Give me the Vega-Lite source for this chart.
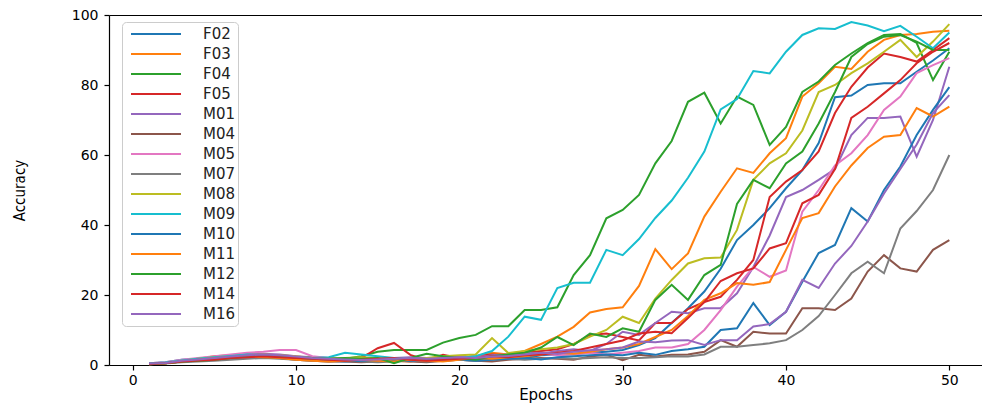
{
"$schema":"https://vega.github.io/schema/vega-lite/v6.json",
"width":873,"height":350,
"autosize":{"type":"none"},
"padding":{"left":109,"top":15,"right":0,"bottom":42},
"background":"white",
"config":{
"view":{"stroke":null},
"axis":{"domainColor":"black","tickColor":"black","labelColor":"black","titleColor":"black","grid":false,"tickSize":5,"labelFont":"DejaVu Sans","titleFont":"DejaVu Sans","labelFontSize":14,"titleFontSize":16,"titleFontWeight":"normal","domainWidth":1.2,"tickWidth":1.2},
"legend":{"orient":"none","legendX":13,"legendY":7,"symbolType":"stroke","symbolSize":2500,"symbolStrokeWidth":2,"clipHeight":20,"rowPadding":0,"labelFontSize":15,"labelFont":"DejaVu Sans","labelColor":"#222222","labelOffset":21,"padding":2,"symbolOffset":6,"strokeColor":"#cccccc","fillColor":"rgba(255,255,255,0.8)","cornerRadius":4}
},
"data":{"values":[
{"s":"F02","e":1,"a":0.5},{"s":"F02","e":2,"a":0.8},{"s":"F02","e":3,"a":1.5},{"s":"F02","e":4,"a":1.8},{"s":"F02","e":5,"a":2.0},{"s":"F02","e":6,"a":2.5},{"s":"F02","e":7,"a":2.8},{"s":"F02","e":8,"a":2.5},{"s":"F02","e":9,"a":2.2},{"s":"F02","e":10,"a":1.8},
{"s":"F02","e":11,"a":1.5},{"s":"F02","e":12,"a":1.2},{"s":"F02","e":13,"a":1.5},{"s":"F02","e":14,"a":1.3},{"s":"F02","e":15,"a":1.6},{"s":"F02","e":16,"a":1.4},{"s":"F02","e":17,"a":1.8},{"s":"F02","e":18,"a":1.5},{"s":"F02","e":19,"a":2.0},{"s":"F02","e":20,"a":1.8},
{"s":"F02","e":21,"a":1.5},{"s":"F02","e":22,"a":2.2},{"s":"F02","e":23,"a":2.5},{"s":"F02","e":24,"a":2.0},{"s":"F02","e":25,"a":2.8},{"s":"F02","e":26,"a":3.0},{"s":"F02","e":27,"a":3.2},{"s":"F02","e":28,"a":3.5},{"s":"F02","e":29,"a":3.8},{"s":"F02","e":30,"a":4.3},
{"s":"F02","e":31,"a":5.7},{"s":"F02","e":32,"a":7.7},{"s":"F02","e":33,"a":12},{"s":"F02","e":34,"a":16.2},{"s":"F02","e":35,"a":21},{"s":"F02","e":36,"a":27.5},{"s":"F02","e":37,"a":35.7},{"s":"F02","e":38,"a":40},{"s":"F02","e":39,"a":44.8},{"s":"F02","e":40,"a":50.5},
{"s":"F02","e":41,"a":55.7},{"s":"F02","e":42,"a":63.4},{"s":"F02","e":43,"a":76.5},{"s":"F02","e":44,"a":77},{"s":"F02","e":45,"a":80},{"s":"F02","e":46,"a":80.5},{"s":"F02","e":47,"a":80.5},{"s":"F02","e":48,"a":83.8},{"s":"F02","e":49,"a":87},{"s":"F02","e":50,"a":90.5},
{"s":"F03","e":1,"a":0.3},{"s":"F03","e":2,"a":0.6},{"s":"F03","e":3,"a":1.2},{"s":"F03","e":4,"a":1.8},{"s":"F03","e":5,"a":2.5},{"s":"F03","e":6,"a":2.8},{"s":"F03","e":7,"a":3.0},{"s":"F03","e":8,"a":2.6},{"s":"F03","e":9,"a":2.2},{"s":"F03","e":10,"a":2.0},
{"s":"F03","e":11,"a":1.8},{"s":"F03","e":12,"a":1.5},{"s":"F03","e":13,"a":1.2},{"s":"F03","e":14,"a":1.0},{"s":"F03","e":15,"a":1.5},{"s":"F03","e":16,"a":1.2},{"s":"F03","e":17,"a":1.0},{"s":"F03","e":18,"a":1.8},{"s":"F03","e":19,"a":2.5},{"s":"F03","e":20,"a":2.0},
{"s":"F03","e":21,"a":2.5},{"s":"F03","e":22,"a":3.5},{"s":"F03","e":23,"a":3.0},{"s":"F03","e":24,"a":4.0},{"s":"F03","e":25,"a":6.0},{"s":"F03","e":26,"a":8.1},{"s":"F03","e":27,"a":10.9},{"s":"F03","e":28,"a":15},{"s":"F03","e":29,"a":16},{"s":"F03","e":30,"a":16.5},
{"s":"F03","e":31,"a":22.6},{"s":"F03","e":32,"a":33.1},{"s":"F03","e":33,"a":27.4},{"s":"F03","e":34,"a":31.9},{"s":"F03","e":35,"a":42.4},{"s":"F03","e":36,"a":49.5},{"s":"F03","e":37,"a":56.2},{"s":"F03","e":38,"a":54.9},{"s":"F03","e":39,"a":60.5},{"s":"F03","e":40,"a":64.8},
{"s":"F03","e":41,"a":76.7},{"s":"F03","e":42,"a":80.5},{"s":"F03","e":43,"a":85.2},{"s":"F03","e":44,"a":84.6},{"s":"F03","e":45,"a":89.5},{"s":"F03","e":46,"a":92.9},{"s":"F03","e":47,"a":94.3},{"s":"F03","e":48,"a":94.6},{"s":"F03","e":49,"a":95.2},{"s":"F03","e":50,"a":95.5},
{"s":"F04","e":1,"a":0.2},{"s":"F04","e":2,"a":0.5},{"s":"F04","e":3,"a":1.0},{"s":"F04","e":4,"a":1.5},{"s":"F04","e":5,"a":2.0},{"s":"F04","e":6,"a":2.8},{"s":"F04","e":7,"a":3.2},{"s":"F04","e":8,"a":2.8},{"s":"F04","e":9,"a":2.5},{"s":"F04","e":10,"a":2.2},
{"s":"F04","e":11,"a":2.0},{"s":"F04","e":12,"a":2.0},{"s":"F04","e":13,"a":1.8},{"s":"F04","e":14,"a":2.5},{"s":"F04","e":15,"a":3.8},{"s":"F04","e":16,"a":4.3},{"s":"F04","e":17,"a":4.3},{"s":"F04","e":18,"a":4.3},{"s":"F04","e":19,"a":6.4},{"s":"F04","e":20,"a":7.7},
{"s":"F04","e":21,"a":8.6},{"s":"F04","e":22,"a":11.1},{"s":"F04","e":23,"a":11.1},{"s":"F04","e":24,"a":15.7},{"s":"F04","e":25,"a":15.7},{"s":"F04","e":26,"a":16.5},{"s":"F04","e":27,"a":25.7},{"s":"F04","e":28,"a":31.4},{"s":"F04","e":29,"a":41.9},{"s":"F04","e":30,"a":44.3},
{"s":"F04","e":31,"a":48.6},{"s":"F04","e":32,"a":57.6},{"s":"F04","e":33,"a":64},{"s":"F04","e":34,"a":75.2},{"s":"F04","e":35,"a":77.8},{"s":"F04","e":36,"a":69},{"s":"F04","e":37,"a":76.7},{"s":"F04","e":38,"a":74.3},{"s":"F04","e":39,"a":62.9},{"s":"F04","e":40,"a":68},
{"s":"F04","e":41,"a":78},{"s":"F04","e":42,"a":81},{"s":"F04","e":43,"a":85.7},{"s":"F04","e":44,"a":89},{"s":"F04","e":45,"a":92},{"s":"F04","e":46,"a":94.3},{"s":"F04","e":47,"a":94.6},{"s":"F04","e":48,"a":92},{"s":"F04","e":49,"a":81.4},{"s":"F04","e":50,"a":89.5},
{"s":"F05","e":1,"a":0.5},{"s":"F05","e":2,"a":0.6},{"s":"F05","e":3,"a":1.0},{"s":"F05","e":4,"a":1.5},{"s":"F05","e":5,"a":1.8},{"s":"F05","e":6,"a":2.2},{"s":"F05","e":7,"a":2.8},{"s":"F05","e":8,"a":3.0},{"s":"F05","e":9,"a":2.5},{"s":"F05","e":10,"a":2.0},
{"s":"F05","e":11,"a":1.8},{"s":"F05","e":12,"a":1.5},{"s":"F05","e":13,"a":1.5},{"s":"F05","e":14,"a":2.0},{"s":"F05","e":15,"a":4.8},{"s":"F05","e":16,"a":6.3},{"s":"F05","e":17,"a":2.9},{"s":"F05","e":18,"a":1.4},{"s":"F05","e":19,"a":2.9},{"s":"F05","e":20,"a":2.0},
{"s":"F05","e":21,"a":2.5},{"s":"F05","e":22,"a":3.0},{"s":"F05","e":23,"a":2.8},{"s":"F05","e":24,"a":3.5},{"s":"F05","e":25,"a":4.0},{"s":"F05","e":26,"a":4.5},{"s":"F05","e":27,"a":6.0},{"s":"F05","e":28,"a":8.6},{"s":"F05","e":29,"a":9.0},{"s":"F05","e":30,"a":8.0},
{"s":"F05","e":31,"a":7.0},{"s":"F05","e":32,"a":12},{"s":"F05","e":33,"a":12},{"s":"F05","e":34,"a":16},{"s":"F05","e":35,"a":18},{"s":"F05","e":36,"a":19.5},{"s":"F05","e":37,"a":24.3},{"s":"F05","e":38,"a":30},{"s":"F05","e":39,"a":48},{"s":"F05","e":40,"a":52.4},
{"s":"F05","e":41,"a":55.7},{"s":"F05","e":42,"a":61},{"s":"F05","e":43,"a":72},{"s":"F05","e":44,"a":79.5},{"s":"F05","e":45,"a":85},{"s":"F05","e":46,"a":89},{"s":"F05","e":47,"a":88},{"s":"F05","e":48,"a":86.7},{"s":"F05","e":49,"a":90},{"s":"F05","e":50,"a":93.4},
{"s":"M01","e":1,"a":0.3},{"s":"M01","e":2,"a":0.5},{"s":"M01","e":3,"a":1.2},{"s":"M01","e":4,"a":1.5},{"s":"M01","e":5,"a":2.0},{"s":"M01","e":6,"a":2.5},{"s":"M01","e":7,"a":3.0},{"s":"M01","e":8,"a":3.2},{"s":"M01","e":9,"a":3.0},{"s":"M01","e":10,"a":2.5},
{"s":"M01","e":11,"a":2.2},{"s":"M01","e":12,"a":2.0},{"s":"M01","e":13,"a":1.8},{"s":"M01","e":14,"a":1.5},{"s":"M01","e":15,"a":1.8},{"s":"M01","e":16,"a":2.0},{"s":"M01","e":17,"a":2.2},{"s":"M01","e":18,"a":2.0},{"s":"M01","e":19,"a":1.8},{"s":"M01","e":20,"a":2.5},
{"s":"M01","e":21,"a":2.0},{"s":"M01","e":22,"a":2.8},{"s":"M01","e":23,"a":3.0},{"s":"M01","e":24,"a":3.5},{"s":"M01","e":25,"a":3.2},{"s":"M01","e":26,"a":4.0},{"s":"M01","e":27,"a":4.5},{"s":"M01","e":28,"a":4.0},{"s":"M01","e":29,"a":6.0},{"s":"M01","e":30,"a":9.5},
{"s":"M01","e":31,"a":8.6},{"s":"M01","e":32,"a":12},{"s":"M01","e":33,"a":15.2},{"s":"M01","e":34,"a":14.8},{"s":"M01","e":35,"a":16.2},{"s":"M01","e":36,"a":16.2},{"s":"M01","e":37,"a":20.5},{"s":"M01","e":38,"a":28},{"s":"M01","e":39,"a":37},{"s":"M01","e":40,"a":48},
{"s":"M01","e":41,"a":50},{"s":"M01","e":42,"a":52.9},{"s":"M01","e":43,"a":56},{"s":"M01","e":44,"a":65.7},{"s":"M01","e":45,"a":70.6},{"s":"M01","e":46,"a":70.6},{"s":"M01","e":47,"a":71},{"s":"M01","e":48,"a":59.5},{"s":"M01","e":49,"a":70},{"s":"M01","e":50,"a":85.2},
{"s":"M04","e":1,"a":0.3},{"s":"M04","e":2,"a":0.5},{"s":"M04","e":3,"a":1.0},{"s":"M04","e":4,"a":1.2},{"s":"M04","e":5,"a":1.5},{"s":"M04","e":6,"a":1.8},{"s":"M04","e":7,"a":2.0},{"s":"M04","e":8,"a":2.2},{"s":"M04","e":9,"a":2.0},{"s":"M04","e":10,"a":1.5},
{"s":"M04","e":11,"a":1.2},{"s":"M04","e":12,"a":1.0},{"s":"M04","e":13,"a":1.0},{"s":"M04","e":14,"a":0.8},{"s":"M04","e":15,"a":1.0},{"s":"M04","e":16,"a":1.2},{"s":"M04","e":17,"a":1.0},{"s":"M04","e":18,"a":0.8},{"s":"M04","e":19,"a":1.2},{"s":"M04","e":20,"a":1.5},
{"s":"M04","e":21,"a":1.2},{"s":"M04","e":22,"a":1.0},{"s":"M04","e":23,"a":1.5},{"s":"M04","e":24,"a":1.8},{"s":"M04","e":25,"a":2.0},{"s":"M04","e":26,"a":1.8},{"s":"M04","e":27,"a":1.5},{"s":"M04","e":28,"a":2.4},{"s":"M04","e":29,"a":2.9},{"s":"M04","e":30,"a":1.4},
{"s":"M04","e":31,"a":2.9},{"s":"M04","e":32,"a":2.4},{"s":"M04","e":33,"a":2.9},{"s":"M04","e":34,"a":3.0},{"s":"M04","e":35,"a":3.8},{"s":"M04","e":36,"a":7.1},{"s":"M04","e":37,"a":5.2},{"s":"M04","e":38,"a":9.5},{"s":"M04","e":39,"a":9.0},{"s":"M04","e":40,"a":9.0},
{"s":"M04","e":41,"a":16.2},{"s":"M04","e":42,"a":16.2},{"s":"M04","e":43,"a":15.7},{"s":"M04","e":44,"a":19},{"s":"M04","e":45,"a":26.7},{"s":"M04","e":46,"a":31.4},{"s":"M04","e":47,"a":27.6},{"s":"M04","e":48,"a":26.7},{"s":"M04","e":49,"a":32.9},{"s":"M04","e":50,"a":35.7},
{"s":"M05","e":1,"a":0.5},{"s":"M05","e":2,"a":0.8},{"s":"M05","e":3,"a":1.5},{"s":"M05","e":4,"a":2.0},{"s":"M05","e":5,"a":2.5},{"s":"M05","e":6,"a":3.0},{"s":"M05","e":7,"a":3.5},{"s":"M05","e":8,"a":3.8},{"s":"M05","e":9,"a":4.3},{"s":"M05","e":10,"a":4.3},
{"s":"M05","e":11,"a":2.5},{"s":"M05","e":12,"a":2.0},{"s":"M05","e":13,"a":1.8},{"s":"M05","e":14,"a":1.5},{"s":"M05","e":15,"a":1.5},{"s":"M05","e":16,"a":1.8},{"s":"M05","e":17,"a":2.0},{"s":"M05","e":18,"a":1.5},{"s":"M05","e":19,"a":1.8},{"s":"M05","e":20,"a":2.0},
{"s":"M05","e":21,"a":2.5},{"s":"M05","e":22,"a":2.2},{"s":"M05","e":23,"a":2.5},{"s":"M05","e":24,"a":3.0},{"s":"M05","e":25,"a":3.2},{"s":"M05","e":26,"a":2.8},{"s":"M05","e":27,"a":3.0},{"s":"M05","e":28,"a":3.5},{"s":"M05","e":29,"a":3.0},{"s":"M05","e":30,"a":3.5},
{"s":"M05","e":31,"a":4.0},{"s":"M05","e":32,"a":5.0},{"s":"M05","e":33,"a":5.0},{"s":"M05","e":34,"a":6.0},{"s":"M05","e":35,"a":10},{"s":"M05","e":36,"a":15.7},{"s":"M05","e":37,"a":22.4},{"s":"M05","e":38,"a":28},{"s":"M05","e":39,"a":25.2},{"s":"M05","e":40,"a":27},
{"s":"M05","e":41,"a":43.8},{"s":"M05","e":42,"a":50},{"s":"M05","e":43,"a":57},{"s":"M05","e":44,"a":60.5},{"s":"M05","e":45,"a":65.7},{"s":"M05","e":46,"a":72.9},{"s":"M05","e":47,"a":76.7},{"s":"M05","e":48,"a":83.4},{"s":"M05","e":49,"a":85.7},{"s":"M05","e":50,"a":87.7},
{"s":"M07","e":1,"a":0.2},{"s":"M07","e":2,"a":0.4},{"s":"M07","e":3,"a":0.8},{"s":"M07","e":4,"a":1.0},{"s":"M07","e":5,"a":1.2},{"s":"M07","e":6,"a":1.5},{"s":"M07","e":7,"a":1.8},{"s":"M07","e":8,"a":2.0},{"s":"M07","e":9,"a":1.8},{"s":"M07","e":10,"a":1.5},
{"s":"M07","e":11,"a":1.2},{"s":"M07","e":12,"a":1.0},{"s":"M07","e":13,"a":1.2},{"s":"M07","e":14,"a":1.0},{"s":"M07","e":15,"a":0.8},{"s":"M07","e":16,"a":1.0},{"s":"M07","e":17,"a":1.2},{"s":"M07","e":18,"a":1.0},{"s":"M07","e":19,"a":1.2},{"s":"M07","e":20,"a":1.5},
{"s":"M07","e":21,"a":1.2},{"s":"M07","e":22,"a":1.5},{"s":"M07","e":23,"a":1.8},{"s":"M07","e":24,"a":1.5},{"s":"M07","e":25,"a":1.8},{"s":"M07","e":26,"a":2.0},{"s":"M07","e":27,"a":1.8},{"s":"M07","e":28,"a":2.0},{"s":"M07","e":29,"a":2.2},{"s":"M07","e":30,"a":2.0},
{"s":"M07","e":31,"a":2.0},{"s":"M07","e":32,"a":2.2},{"s":"M07","e":33,"a":2.5},{"s":"M07","e":34,"a":2.4},{"s":"M07","e":35,"a":3.0},{"s":"M07","e":36,"a":5.2},{"s":"M07","e":37,"a":5.2},{"s":"M07","e":38,"a":5.7},{"s":"M07","e":39,"a":6.2},{"s":"M07","e":40,"a":7.1},
{"s":"M07","e":41,"a":10},{"s":"M07","e":42,"a":14},{"s":"M07","e":43,"a":20},{"s":"M07","e":44,"a":26.2},{"s":"M07","e":45,"a":29.5},{"s":"M07","e":46,"a":26.2},{"s":"M07","e":47,"a":39},{"s":"M07","e":48,"a":44},{"s":"M07","e":49,"a":50},{"s":"M07","e":50,"a":60},
{"s":"M08","e":1,"a":0.3},{"s":"M08","e":2,"a":0.6},{"s":"M08","e":3,"a":1.2},{"s":"M08","e":4,"a":1.8},{"s":"M08","e":5,"a":2.2},{"s":"M08","e":6,"a":2.5},{"s":"M08","e":7,"a":2.8},{"s":"M08","e":8,"a":3.0},{"s":"M08","e":9,"a":2.8},{"s":"M08","e":10,"a":2.5},
{"s":"M08","e":11,"a":2.0},{"s":"M08","e":12,"a":1.8},{"s":"M08","e":13,"a":2.0},{"s":"M08","e":14,"a":2.2},{"s":"M08","e":15,"a":2.0},{"s":"M08","e":16,"a":1.8},{"s":"M08","e":17,"a":1.5},{"s":"M08","e":18,"a":2.0},{"s":"M08","e":19,"a":2.5},{"s":"M08","e":20,"a":2.8},
{"s":"M08","e":21,"a":3.0},{"s":"M08","e":22,"a":7.7},{"s":"M08","e":23,"a":3.4},{"s":"M08","e":24,"a":4.0},{"s":"M08","e":25,"a":4.5},{"s":"M08","e":26,"a":5.0},{"s":"M08","e":27,"a":6.0},{"s":"M08","e":28,"a":8.1},{"s":"M08","e":29,"a":10},{"s":"M08","e":30,"a":13.8},
{"s":"M08","e":31,"a":12},{"s":"M08","e":32,"a":19},{"s":"M08","e":33,"a":24.3},{"s":"M08","e":34,"a":29},{"s":"M08","e":35,"a":30.5},{"s":"M08","e":36,"a":30.7},{"s":"M08","e":37,"a":38.6},{"s":"M08","e":38,"a":52.9},{"s":"M08","e":39,"a":57.6},{"s":"M08","e":40,"a":60.5},
{"s":"M08","e":41,"a":67},{"s":"M08","e":42,"a":78},{"s":"M08","e":43,"a":80},{"s":"M08","e":44,"a":83.4},{"s":"M08","e":45,"a":86.2},{"s":"M08","e":46,"a":89.5},{"s":"M08","e":47,"a":92.9},{"s":"M08","e":48,"a":88},{"s":"M08","e":49,"a":92.4},{"s":"M08","e":50,"a":97.4},
{"s":"M09","e":1,"a":0.4},{"s":"M09","e":2,"a":0.7},{"s":"M09","e":3,"a":1.3},{"s":"M09","e":4,"a":1.8},{"s":"M09","e":5,"a":2.2},{"s":"M09","e":6,"a":2.6},{"s":"M09","e":7,"a":3.0},{"s":"M09","e":8,"a":2.8},{"s":"M09","e":9,"a":2.6},{"s":"M09","e":10,"a":2.2},
{"s":"M09","e":11,"a":2.0},{"s":"M09","e":12,"a":2.2},{"s":"M09","e":13,"a":3.5},{"s":"M09","e":14,"a":3.0},{"s":"M09","e":15,"a":2.5},{"s":"M09","e":16,"a":2.0},{"s":"M09","e":17,"a":1.8},{"s":"M09","e":18,"a":1.5},{"s":"M09","e":19,"a":1.5},{"s":"M09","e":20,"a":2.0},
{"s":"M09","e":21,"a":2.5},{"s":"M09","e":22,"a":4.0},{"s":"M09","e":23,"a":8.1},{"s":"M09","e":24,"a":13.8},{"s":"M09","e":25,"a":12.9},{"s":"M09","e":26,"a":22},{"s":"M09","e":27,"a":23.5},{"s":"M09","e":28,"a":23.5},{"s":"M09","e":29,"a":32.9},{"s":"M09","e":30,"a":31.4},
{"s":"M09","e":31,"a":36},{"s":"M09","e":32,"a":42},{"s":"M09","e":33,"a":47},{"s":"M09","e":34,"a":53.5},{"s":"M09","e":35,"a":61},{"s":"M09","e":36,"a":73},{"s":"M09","e":37,"a":76},{"s":"M09","e":38,"a":84},{"s":"M09","e":39,"a":83.3},{"s":"M09","e":40,"a":89.5},
{"s":"M09","e":41,"a":94.3},{"s":"M09","e":42,"a":96.2},{"s":"M09","e":43,"a":96},{"s":"M09","e":44,"a":98},{"s":"M09","e":45,"a":97},{"s":"M09","e":46,"a":95.4},{"s":"M09","e":47,"a":96.9},{"s":"M09","e":48,"a":93.8},{"s":"M09","e":49,"a":90.5},{"s":"M09","e":50,"a":95},
{"s":"M10","e":1,"a":0.3},{"s":"M10","e":2,"a":0.6},{"s":"M10","e":3,"a":1.0},{"s":"M10","e":4,"a":1.5},{"s":"M10","e":5,"a":1.8},{"s":"M10","e":6,"a":2.2},{"s":"M10","e":7,"a":2.5},{"s":"M10","e":8,"a":2.3},{"s":"M10","e":9,"a":2.0},{"s":"M10","e":10,"a":1.8},
{"s":"M10","e":11,"a":1.5},{"s":"M10","e":12,"a":1.2},{"s":"M10","e":13,"a":1.0},{"s":"M10","e":14,"a":1.2},{"s":"M10","e":15,"a":1.5},{"s":"M10","e":16,"a":1.3},{"s":"M10","e":17,"a":1.2},{"s":"M10","e":18,"a":1.5},{"s":"M10","e":19,"a":1.8},{"s":"M10","e":20,"a":1.5},
{"s":"M10","e":21,"a":1.2},{"s":"M10","e":22,"a":1.5},{"s":"M10","e":23,"a":1.8},{"s":"M10","e":24,"a":2.0},{"s":"M10","e":25,"a":1.6},{"s":"M10","e":26,"a":2.2},{"s":"M10","e":27,"a":2.5},{"s":"M10","e":28,"a":2.8},{"s":"M10","e":29,"a":3.0},{"s":"M10","e":30,"a":2.8},
{"s":"M10","e":31,"a":3.5},{"s":"M10","e":32,"a":2.9},{"s":"M10","e":33,"a":4.0},{"s":"M10","e":34,"a":4.5},{"s":"M10","e":35,"a":5.2},{"s":"M10","e":36,"a":10},{"s":"M10","e":37,"a":10.5},{"s":"M10","e":38,"a":17.7},{"s":"M10","e":39,"a":11.4},{"s":"M10","e":40,"a":15.2},
{"s":"M10","e":41,"a":23.8},{"s":"M10","e":42,"a":32},{"s":"M10","e":43,"a":34.3},{"s":"M10","e":44,"a":44.8},{"s":"M10","e":45,"a":41},{"s":"M10","e":46,"a":50},{"s":"M10","e":47,"a":56.7},{"s":"M10","e":48,"a":65.7},{"s":"M10","e":49,"a":72.9},{"s":"M10","e":50,"a":79.4},
{"s":"M11","e":1,"a":0.2},{"s":"M11","e":2,"a":0.5},{"s":"M11","e":3,"a":1.0},{"s":"M11","e":4,"a":1.5},{"s":"M11","e":5,"a":2.0},{"s":"M11","e":6,"a":2.2},{"s":"M11","e":7,"a":2.5},{"s":"M11","e":8,"a":2.2},{"s":"M11","e":9,"a":2.0},{"s":"M11","e":10,"a":1.5},
{"s":"M11","e":11,"a":1.2},{"s":"M11","e":12,"a":1.0},{"s":"M11","e":13,"a":1.2},{"s":"M11","e":14,"a":1.5},{"s":"M11","e":15,"a":1.2},{"s":"M11","e":16,"a":1.0},{"s":"M11","e":17,"a":1.5},{"s":"M11","e":18,"a":1.2},{"s":"M11","e":19,"a":1.0},{"s":"M11","e":20,"a":1.5},
{"s":"M11","e":21,"a":2.0},{"s":"M11","e":22,"a":1.8},{"s":"M11","e":23,"a":2.2},{"s":"M11","e":24,"a":2.5},{"s":"M11","e":25,"a":3.0},{"s":"M11","e":26,"a":3.5},{"s":"M11","e":27,"a":3.2},{"s":"M11","e":28,"a":3.8},{"s":"M11","e":29,"a":4.5},{"s":"M11","e":30,"a":5.0},
{"s":"M11","e":31,"a":6.0},{"s":"M11","e":32,"a":8.0},{"s":"M11","e":33,"a":10},{"s":"M11","e":34,"a":14},{"s":"M11","e":35,"a":18.6},{"s":"M11","e":36,"a":20.5},{"s":"M11","e":37,"a":23.4},{"s":"M11","e":38,"a":22.9},{"s":"M11","e":39,"a":23.7},{"s":"M11","e":40,"a":32.9},
{"s":"M11","e":41,"a":42},{"s":"M11","e":42,"a":43.4},{"s":"M11","e":43,"a":51},{"s":"M11","e":44,"a":57},{"s":"M11","e":45,"a":62},{"s":"M11","e":46,"a":65.2},{"s":"M11","e":47,"a":65.7},{"s":"M11","e":48,"a":73.4},{"s":"M11","e":49,"a":71},{"s":"M11","e":50,"a":73.8},
{"s":"M12","e":1,"a":0.3},{"s":"M12","e":2,"a":0.5},{"s":"M12","e":3,"a":1.0},{"s":"M12","e":4,"a":1.2},{"s":"M12","e":5,"a":1.5},{"s":"M12","e":6,"a":2.0},{"s":"M12","e":7,"a":2.5},{"s":"M12","e":8,"a":2.8},{"s":"M12","e":9,"a":2.5},{"s":"M12","e":10,"a":2.2},
{"s":"M12","e":11,"a":2.0},{"s":"M12","e":12,"a":1.8},{"s":"M12","e":13,"a":2.0},{"s":"M12","e":14,"a":1.8},{"s":"M12","e":15,"a":2.0},{"s":"M12","e":16,"a":0.5},{"s":"M12","e":17,"a":2.0},{"s":"M12","e":18,"a":3.2},{"s":"M12","e":19,"a":2.5},{"s":"M12","e":20,"a":2.0},
{"s":"M12","e":21,"a":1.5},{"s":"M12","e":22,"a":2.5},{"s":"M12","e":23,"a":3.0},{"s":"M12","e":24,"a":3.5},{"s":"M12","e":25,"a":5.0},{"s":"M12","e":26,"a":8.0},{"s":"M12","e":27,"a":5.7},{"s":"M12","e":28,"a":9.0},{"s":"M12","e":29,"a":8.0},{"s":"M12","e":30,"a":10.5},
{"s":"M12","e":31,"a":9.5},{"s":"M12","e":32,"a":18.6},{"s":"M12","e":33,"a":22.9},{"s":"M12","e":34,"a":18.6},{"s":"M12","e":35,"a":25.7},{"s":"M12","e":36,"a":28.6},{"s":"M12","e":37,"a":46},{"s":"M12","e":38,"a":52.9},{"s":"M12","e":39,"a":50.5},{"s":"M12","e":40,"a":57.6},
{"s":"M12","e":41,"a":61},{"s":"M12","e":42,"a":69},{"s":"M12","e":43,"a":78},{"s":"M12","e":44,"a":88},{"s":"M12","e":45,"a":91.7},{"s":"M12","e":46,"a":93.8},{"s":"M12","e":47,"a":94.3},{"s":"M12","e":48,"a":92.4},{"s":"M12","e":49,"a":90},{"s":"M12","e":50,"a":90},
{"s":"M14","e":1,"a":0.3},{"s":"M14","e":2,"a":0.5},{"s":"M14","e":3,"a":1.0},{"s":"M14","e":4,"a":1.3},{"s":"M14","e":5,"a":1.5},{"s":"M14","e":6,"a":2.0},{"s":"M14","e":7,"a":2.2},{"s":"M14","e":8,"a":2.5},{"s":"M14","e":9,"a":2.2},{"s":"M14","e":10,"a":2.0},
{"s":"M14","e":11,"a":1.8},{"s":"M14","e":12,"a":1.5},{"s":"M14","e":13,"a":1.2},{"s":"M14","e":14,"a":1.5},{"s":"M14","e":15,"a":1.8},{"s":"M14","e":16,"a":2.0},{"s":"M14","e":17,"a":1.5},{"s":"M14","e":18,"a":1.2},{"s":"M14","e":19,"a":1.5},{"s":"M14","e":20,"a":1.8},
{"s":"M14","e":21,"a":2.0},{"s":"M14","e":22,"a":2.5},{"s":"M14","e":23,"a":2.2},{"s":"M14","e":24,"a":2.8},{"s":"M14","e":25,"a":3.0},{"s":"M14","e":26,"a":3.5},{"s":"M14","e":27,"a":4.0},{"s":"M14","e":28,"a":5.0},{"s":"M14","e":29,"a":6.0},{"s":"M14","e":30,"a":7.0},
{"s":"M14","e":31,"a":9.0},{"s":"M14","e":32,"a":9.5},{"s":"M14","e":33,"a":9.1},{"s":"M14","e":34,"a":13.4},{"s":"M14","e":35,"a":18},{"s":"M14","e":36,"a":24},{"s":"M14","e":37,"a":26.2},{"s":"M14","e":38,"a":27.6},{"s":"M14","e":39,"a":33.3},{"s":"M14","e":40,"a":34.8},
{"s":"M14","e":41,"a":46.2},{"s":"M14","e":42,"a":48.6},{"s":"M14","e":43,"a":56},{"s":"M14","e":44,"a":70.6},{"s":"M14","e":45,"a":73.8},{"s":"M14","e":46,"a":77.6},{"s":"M14","e":47,"a":81.4},{"s":"M14","e":48,"a":86.2},{"s":"M14","e":49,"a":89.5},{"s":"M14","e":50,"a":92},
{"s":"M16","e":1,"a":0.4},{"s":"M16","e":2,"a":0.6},{"s":"M16","e":3,"a":1.2},{"s":"M16","e":4,"a":1.6},{"s":"M16","e":5,"a":2.0},{"s":"M16","e":6,"a":2.4},{"s":"M16","e":7,"a":2.8},{"s":"M16","e":8,"a":3.0},{"s":"M16","e":9,"a":2.8},{"s":"M16","e":10,"a":2.4},
{"s":"M16","e":11,"a":2.0},{"s":"M16","e":12,"a":1.8},{"s":"M16","e":13,"a":1.6},{"s":"M16","e":14,"a":1.4},{"s":"M16","e":15,"a":1.6},{"s":"M16","e":16,"a":1.8},{"s":"M16","e":17,"a":2.0},{"s":"M16","e":18,"a":1.8},{"s":"M16","e":19,"a":2.0},{"s":"M16","e":20,"a":2.2},
{"s":"M16","e":21,"a":2.0},{"s":"M16","e":22,"a":2.4},{"s":"M16","e":23,"a":2.6},{"s":"M16","e":24,"a":3.0},{"s":"M16","e":25,"a":3.5},{"s":"M16","e":26,"a":3.2},{"s":"M16","e":27,"a":3.8},{"s":"M16","e":28,"a":4.2},{"s":"M16","e":29,"a":4.5},{"s":"M16","e":30,"a":5.0},
{"s":"M16","e":31,"a":6.7},{"s":"M16","e":32,"a":6.5},{"s":"M16","e":33,"a":7.0},{"s":"M16","e":34,"a":7.1},{"s":"M16","e":35,"a":5.7},{"s":"M16","e":36,"a":7.1},{"s":"M16","e":37,"a":7.1},{"s":"M16","e":38,"a":11},{"s":"M16","e":39,"a":11.7},{"s":"M16","e":40,"a":15.2},
{"s":"M16","e":41,"a":24.3},{"s":"M16","e":42,"a":22},{"s":"M16","e":43,"a":29},{"s":"M16","e":44,"a":34},{"s":"M16","e":45,"a":41},{"s":"M16","e":46,"a":49},{"s":"M16","e":47,"a":56},{"s":"M16","e":48,"a":63},{"s":"M16","e":49,"a":72},{"s":"M16","e":50,"a":77.1}
]},
"layer":[
{"mark":{"type":"line","strokeWidth":2},
"encoding":{
"x":{"field":"e","type":"quantitative","scale":{"domain":[-1.45,52.0],"nice":false,"zero":false},"axis":{"values":[0,10,20,30,40,50],"title":"Epochs","labelPadding":3,"titlePadding":0,"labelFlush":false,"titleFontSize":15}},
"y":{"field":"a","type":"quantitative","scale":{"domain":[0,100],"nice":false},"axis":{"values":[0,20,40,60,80,100],"title":"Accuracy","labelPadding":6,"titlePadding":44,"titleFont":"DejaVu Sans Condensed","titleFontSize":15}},
"color":{"field":"s","type":"nominal","scale":{"domain":["F02","F03","F04","F05","M01","M04","M05","M07","M08","M09","M10","M11","M12","M14","M16"],"range":["#1f77b4","#ff7f0e","#2ca02c","#d62728","#9467bd","#8c564b","#e377c2","#7f7f7f","#bcbd22","#17becf","#1f77b4","#ff7f0e","#2ca02c","#d62728","#9467bd"]},"legend":{"title":null,"labelExpr":"datum.label + '\u00a0\u00a0\u00a0\u00a0\u00a0\u00a0\u00a0\u00a0'"}}
}},
{"mark":{"type":"point","opacity":0},
"encoding":{
"x":{"field":"e","type":"quantitative","scale":{"domain":[-1.45,52.0],"nice":false,"zero":false},"axis":{"orient":"top","labels":false,"ticks":false,"title":null}},
"y":{"field":"a","type":"quantitative"}
}}
],
"resolve":{"axis":{"x":"independent"}}
}
